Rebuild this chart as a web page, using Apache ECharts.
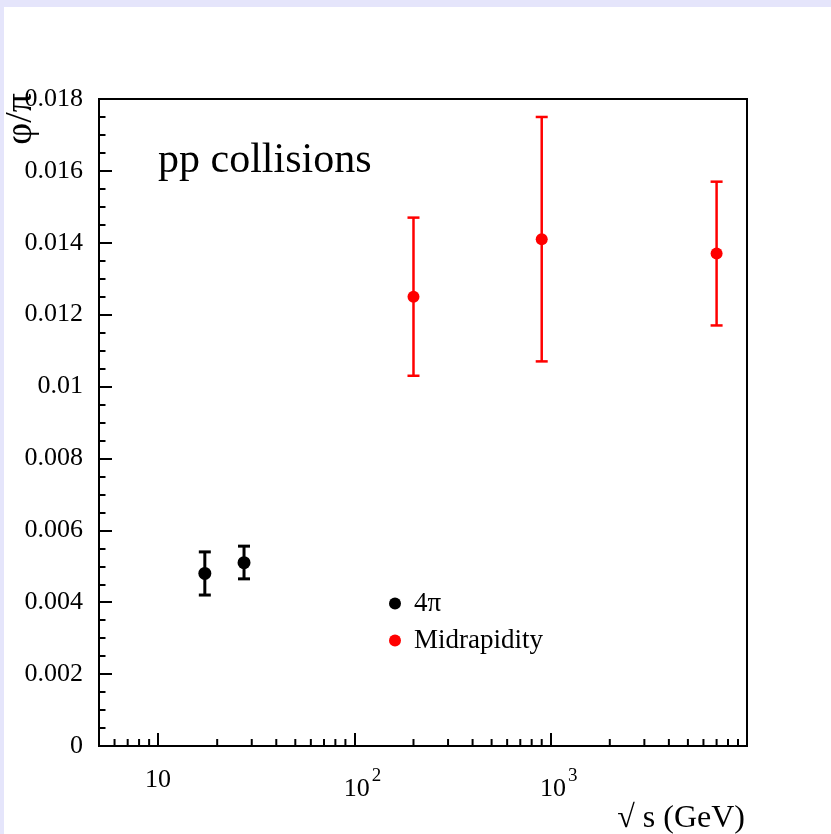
<!DOCTYPE html>
<html><head><meta charset="utf-8">
<script src="https://cdn.jsdelivr.net/npm/echarts@6/dist/echarts.min.js"></script>
<style>
html,body{margin:0;padding:0;background:#e5e5fb;overflow:hidden}
#c{position:absolute;left:4px;top:7px;width:827px;height:827px;background:#ffffff}
</style>
</head><body><div id="c"></div>
<script>
// ---- data ----
const sqrtS4pi = [17.3, 27.4];
const ratio4pi = [0.0048, 0.0051];
const low4pi = [0.0042, 0.00465];
const high4pi = [0.0054, 0.00556];

const sqrtSMid = [200, 900, 7000];
const ratioMid = [0.0125, 0.0141, 0.0137];
const lowMid = [0.0103, 0.0107, 0.0117];
const highMid = [0.0147, 0.0175, 0.0157];

const xMinorTicks = [6, 7, 8, 9, 20, 30, 40, 50, 60, 70, 80, 90, 200, 300, 400, 500, 600, 700, 800, 900, 2000, 3000, 4000, 5000, 6000, 7000, 8000, 9000];
const xMajorLabels = { 10: '{b|10}', 100: '{p|10}{s|2}', 1000: '{p|10}{s|3}' };
const yMin = 0, yMax = 0.018, yStep = 0.002;
const xMin = 5, xMax = 10000;

const FONT = '"Liberation Serif", "DejaVu Serif", serif';

function errRender(color, lw) {
  return function (params, api) {
    const x = api.value(0), lo = api.value(1), hi = api.value(2);
    const p1 = api.coord([x, lo]), p2 = api.coord([x, hi]);
    const w = 6;
    const st = { stroke: color, lineWidth: lw };
    return {
      type: 'group',
      children: [
        { type: 'line', shape: { x1: p1[0], y1: p1[1], x2: p2[0], y2: p2[1] }, style: st },
        { type: 'line', shape: { x1: p1[0] - w, y1: p1[1], x2: p1[0] + w, y2: p1[1] }, style: st },
        { type: 'line', shape: { x1: p2[0] - w, y1: p2[1], x2: p2[0] + w, y2: p2[1] }, style: st }
      ]
    };
  };
}

const chart = echarts.init(document.getElementById('c'), null, { renderer: 'canvas' });
const option = {
  animation: false,
  backgroundColor: '#ffffff',
  grid: { left: 95, top: 92, right: 84, bottom: 88, show: true, borderColor: '#000', borderWidth: 2, backgroundColor: 'transparent' },
  xAxis: {
    type: 'log', logBase: 10, min: xMin, max: xMax,
    axisLine: { show: true, lineStyle: { color: '#000', width: 2 } },
    axisTick: { show: true, inside: true, length: 13, lineStyle: { color: '#000', width: 2 } },
    splitLine: { show: false },
    axisLabel: {
      show: true, margin: 21, color: '#000', fontFamily: FONT, fontSize: 26,
      showMinLabel: true, showMaxLabel: true,
      formatter: function (v) {
        for (const k in xMajorLabels) { if (Math.abs(v - Number(k)) < 1e-6 * Number(k)) return xMajorLabels[k]; }
        return '';
      },
      rich: {
        b: { fontFamily: FONT, fontSize: 26, color: '#000' },
        p: { fontFamily: FONT, fontSize: 26, color: '#000', padding: [0, 0, 0, 16] },
        s: { fontFamily: FONT, fontSize: 19, color: '#000', padding: [0, 0, 26, 2] }
      }
    }
  },
  yAxis: {
    type: 'value', min: yMin, max: yMax, interval: yStep,
    axisLine: { show: true, lineStyle: { color: '#000', width: 2 } },
    axisTick: { show: true, inside: true, length: 13, lineStyle: { color: '#000', width: 2 } },
    minorTick: { show: true, splitNumber: 4, length: 6.5, lineStyle: { color: '#000', width: 2 } },
    splitLine: { show: false },
    axisLabel: { margin: 16, color: '#000', fontFamily: FONT, fontSize: 26 }
  },
  legend: {
    orient: 'vertical', left: 380, top: 578,
    icon: 'circle', itemWidth: 28, itemHeight: 12, itemGap: 10,
    textStyle: { fontFamily: FONT, fontSize: 27, color: '#000', lineHeight: 26 },
    data: ['4π', 'Midrapidity']
  },
  graphic: [
    { type: 'text', x: 154, y: 154, style: { text: 'pp collisions', font: '42px ' + FONT, fill: '#000', align: 'left', verticalAlign: 'middle' } },
    { type: 'text', x: 741, y: 812, style: { text: '√ s (GeV)', font: '32px ' + FONT, fill: '#000', align: 'right', verticalAlign: 'middle' } },
    { type: 'text', x: 17.5, y: 86, rotation: Math.PI / 2, style: { text: 'φ/π', font: '38px ' + FONT, fill: '#000', align: 'right', verticalAlign: 'middle' } }
  ],
  series: [
    {
      type: 'custom', name: 'xminor', silent: true, z: 1,
      renderItem: function (params, api) {
        const p = api.coord([api.value(0), yMin]);
        return { type: 'line', shape: { x1: p[0], y1: p[1], x2: p[0], y2: p[1] - 7 }, style: { stroke: '#000', lineWidth: 2 } };
      },
      encode: { x: 0, y: 1 },
      data: xMinorTicks.map(v => [v, yMin])
    },
    {
      type: 'custom', name: 'err4pi', silent: true, z: 2,
      renderItem: errRender('#000000', 3),
      encode: { x: 0, y: [1, 2] },
      data: sqrtS4pi.map((x, i) => [x, low4pi[i], high4pi[i]])
    },
    {
      type: 'custom', name: 'errMid', silent: true, z: 2,
      renderItem: errRender('#ff0000', 2.5),
      encode: { x: 0, y: [1, 2] },
      data: sqrtSMid.map((x, i) => [x, lowMid[i], highMid[i]])
    },
    {
      type: 'scatter', name: '4π', z: 3, symbol: 'circle', symbolSize: 13,
      itemStyle: { color: '#000000', opacity: 1 },
      data: sqrtS4pi.map((x, i) => [x, ratio4pi[i]])
    },
    {
      type: 'scatter', name: 'Midrapidity', z: 3, symbol: 'circle', symbolSize: 12,
      itemStyle: { color: '#ff0000', opacity: 1 },
      data: sqrtSMid.map((x, i) => [x, ratioMid[i]])
    }
  ]
};
chart.setOption(option);
</script>
</body></html>
